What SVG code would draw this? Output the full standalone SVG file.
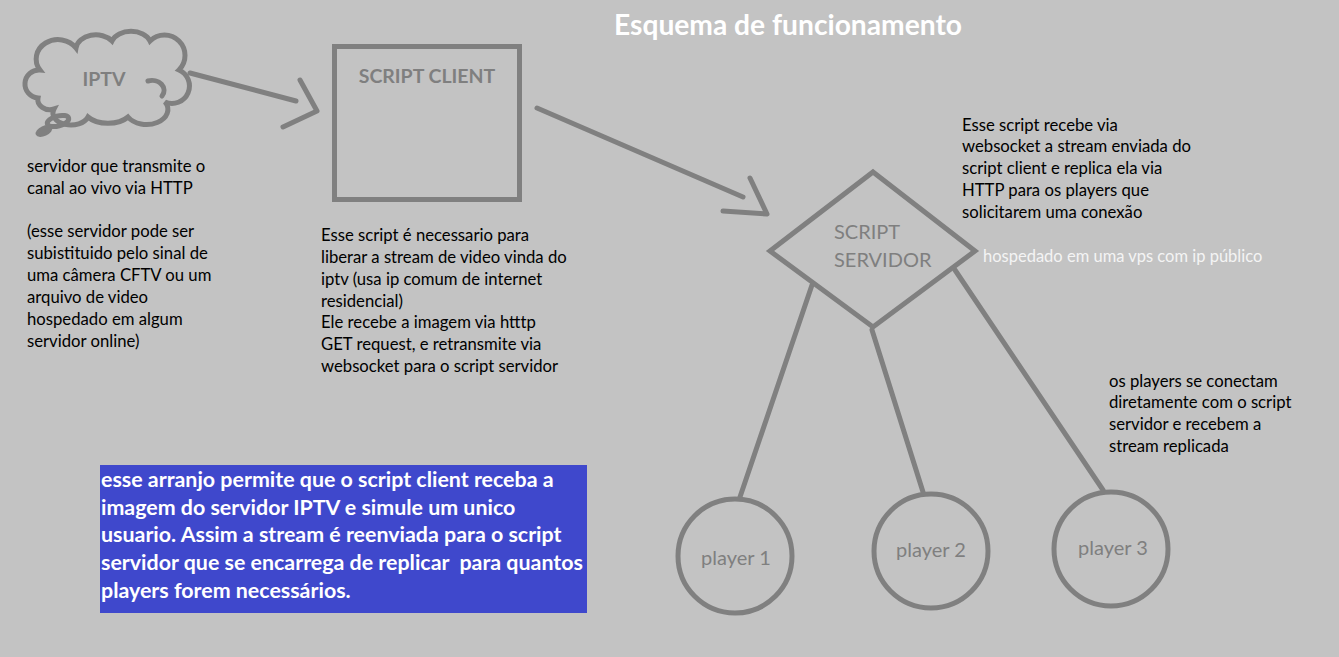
<svg xmlns="http://www.w3.org/2000/svg" width="1339" height="657" viewBox="0 0 1339 657">
<style>
.shape{fill:none;stroke:#808080;stroke-width:5;stroke-linecap:round;stroke-linejoin:miter}
.conn{fill:none;stroke:#808080;stroke-width:5;stroke-linecap:round;stroke-linejoin:round}
.body{font-family:Lato,"Open Sans",sans-serif;font-size:16.7px;fill:#000}
.lbl{font-family:Lato,"Open Sans",sans-serif;font-size:20px;fill:#7f7f7f}
.lblb{font-family:Lato,"Open Sans",sans-serif;font-size:19.5px;font-weight:bold;fill:#7f7f7f}
.white{font-family:Lato,"Open Sans",sans-serif;font-size:16.5px;fill:#f4f4f4}
.blue{font-family:Lato,"Open Sans",sans-serif;font-size:21.4px;font-weight:bold;fill:#fff}
</style>
<rect x="0" y="0" width="1339" height="657" fill="#c3c3c3"/>
<text x="788" y="35" text-anchor="middle" font-family="Lato,'Open Sans',sans-serif" font-size="28.2" font-weight="bold" fill="#fff">Esquema de funcionamento</text>

<g id="iptv">
<path class="shape" d="M38,98 A12,12 0 0 1 40,70 A18,16 0 0 1 76,48 A20,15 0 0 1 112,41 A20,14 0 0 1 150,41 A16,16 0 0 1 179,70 A14,14 0 0 1 165,102 A20,14 0 0 1 128,117 A24,14 0 0 1 88,117 A18,12 0 0 1 54,109 A12,10 0 0 1 38,98 Z"/>
<path class="shape" d="M148,81 A12,10 0 0 1 162,96" stroke-width="4"/>
<ellipse cx="58" cy="121" rx="11" ry="5" class="shape" stroke-width="4" transform="rotate(-15 58 121)"/>
<ellipse cx="44" cy="131" rx="8" ry="4" fill="#808080" stroke="#808080" stroke-width="2" transform="rotate(-25 44 131)"/>
<text x="104" y="86" text-anchor="middle" class="lblb" font-size="21">IPTV</text>
</g>

<g id="script-client">
<rect x="334.5" y="46.5" width="185" height="153" class="shape"/>
<text x="427" y="83" text-anchor="middle" class="lblb">SCRIPT CLIENT</text>
</g>

<g id="script-servidor">
<polygon points="873,172 975,251 873,327 770,251" class="shape"/>
<text x="834" y="239" class="lbl" font-size="19.4">SCRIPT</text>
<text x="834" y="267" class="lbl" font-size="19.4">SERVIDOR</text>
</g>

<g id="player1">
<circle cx="735" cy="556" r="57" class="shape"/>
<text x="736" y="565" text-anchor="middle" class="lbl" font-size="21">player 1</text>
</g>
<g id="player2">
<circle cx="931" cy="551" r="57" class="shape"/>
<text x="931" y="557" text-anchor="middle" class="lbl" font-size="21">player 2</text>
</g>
<g id="player3">
<circle cx="1111" cy="549" r="57" class="shape"/>
<text x="1113" y="555" text-anchor="middle" class="lbl" font-size="21">player 3</text>
</g>

<g id="connectors">
<path class="conn" d="M190,73 L296,101"/>
<path class="conn" d="M300,80 L317,111 L283,127"/>
<path class="conn" d="M537,108 L743,197"/>
<path class="conn" d="M750,178 L767,214 L723,211"/>
<path class="conn" d="M812,285 L740,497"/>
<path class="conn" d="M872,330 L923,492"/>
<path class="conn" d="M955,270 L1103,490"/>
</g>

<g id="note-iptv" class="body">
<text x="27" y="172">servidor que transmite o</text>
<text x="27" y="193.5">canal ao vivo via HTTP</text>
<text x="27" y="237">(esse servidor pode ser</text>
<text x="27" y="259">subistituido pelo sinal de</text>
<text x="27" y="281">uma câmera CFTV ou um</text>
<text x="27" y="303">arquivo de video</text>
<text x="27" y="325">hospedado em algum</text>
<text x="27" y="347">servidor online)</text>
</g>

<g id="note-client" class="body">
<text x="321" y="241">Esse script é necessario para</text>
<text x="321" y="263">liberar a stream de video vinda do</text>
<text x="321" y="285">iptv (usa ip comum de internet</text>
<text x="321" y="306.5">residencial)</text>
<text x="321" y="328">Ele recebe a imagem via htttp</text>
<text x="321" y="350">GET request, e retransmite via</text>
<text x="321" y="372">websocket para o script servidor</text>
</g>

<g id="note-servidor" class="body">
<text x="962" y="130.5">Esse script recebe via</text>
<text x="962" y="152">websocket a stream enviada do</text>
<text x="962" y="174">script client e replica ela via</text>
<text x="962" y="196">HTTP para os players que</text>
<text x="962" y="217.5">solicitarem uma conexão</text>
</g>
<text id="note-vps" x="983" y="262" class="white">hospedado em uma vps com ip público</text>

<g id="note-players" class="body">
<text x="1109" y="386.5">os players se conectam</text>
<text x="1109" y="408">diretamente com o script</text>
<text x="1109" y="430">servidor e recebem a</text>
<text x="1109" y="452">stream replicada</text>
</g>

<g id="summary">
<rect x="100" y="465" width="487" height="148" fill="#3f48cc"/>
<g class="blue">
<text x="101" y="487">esse arranjo permite que o script client receba a</text>
<text x="101" y="514.5">imagem do servidor IPTV e simule um unico</text>
<text x="101" y="542">usuario. Assim a stream é reenviada para o script</text>
<text x="101" y="570" xml:space="preserve">servidor que se encarrega de replicar  para quantos</text>
<text x="101" y="598">players forem necessários.</text>
</g>
</g>
</svg>
